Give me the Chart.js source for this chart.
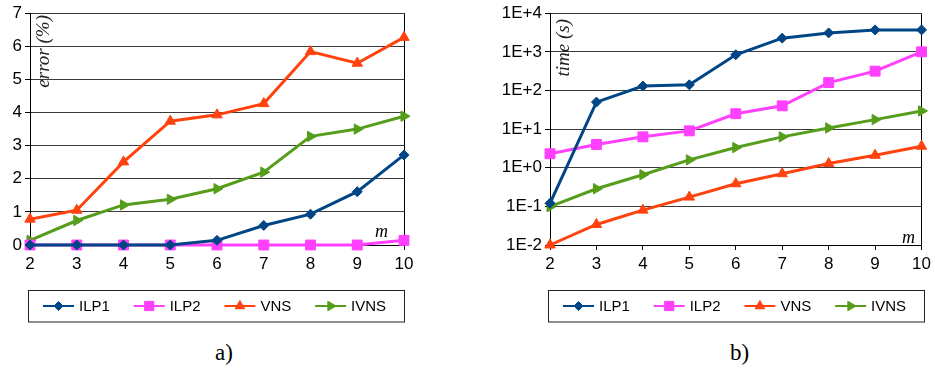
<!DOCTYPE html>
<html>
<head>
<meta charset="utf-8">
<script src="https://cdn.jsdelivr.net/npm/chart.js@4.4.1/dist/chart.umd.min.js"></script>
<style>
body { margin: 0; background: #fff; width: 935px; height: 371px; position: relative; overflow: hidden; }
canvas { position: absolute; top: 0; }
.cap { position: absolute; top: 341px; font: 23px/23px "Liberation Serif", serif; color: #000; }
</style>
</head>
<body>
<canvas id="chartA" width="470" height="330" style="left:0"></canvas>
<canvas id="chartB" width="465" height="330" style="left:470px"></canvas>
<div class="cap" style="left:215px">a)</div>
<div class="cap" style="left:730px">b)</div>
<script>
// values
var mLabels = ["2", "3", "4", "5", "6", "7", "8", "9", "10"];
var seriesNames = ["ILP1", "ILP2", "VNS", "IVNS"];

var errorILP1 = [0, 0, 0, 0, 0.14, 0.59, 0.93, 1.61, 2.72];
var errorILP2 = [0, 0, 0, 0, 0, 0, 0, 0, 0.14];
var errorVNS = [0.78, 1.05, 2.51, 3.74, 3.93, 4.27, 5.84, 5.49, 6.27];
var errorIVNS = [0.14, 0.74, 1.21, 1.38, 1.7, 2.2, 3.28, 3.5, 3.89];

var timeILP1 = [0.12, 50, 130, 140, 840, 2260, 3090, 3700, 3700];
var timeILP2 = [2.3, 4.0, 6.3, 9.0, 25, 40, 160, 316, 1000];
var timeVNS = [0.01, 0.034, 0.08, 0.174, 0.385, 0.7, 1.29, 2.1, 3.6];
var timeIVNS = [0.098, 0.286, 0.66, 1.6, 3.33, 6.3, 10.7, 17.6, 29.5];

var timeTickValues = [0.01, 0.1, 1, 10, 100, 1000, 10000];
var timeTickLabels = ["1E-2", "1E-1", "1E+0", "1E+1", "1E+2", "1E+3", "1E+4"];

// look of each series
var colors = ["#004586", "#ff40ff", "#ff420e", "#579d1c"];
var shapes = ["rectRot", "rect", "triangle", "triangle"];
var radii = [5, 7, 6, 6];
var rotations = [0, 0, 0, 90];

Chart.defaults.font.family = "'Liberation Sans', Arial, sans-serif";
Chart.defaults.font.size = 17;
Chart.defaults.color = "#000";

function makeDatasets(lists) {
    return lists.map(function (vals, i) {
        return {
            label: seriesNames[i],
            data: vals,
            borderColor: colors[i],
            backgroundColor: colors[i],
            borderWidth: 3,
            pointStyle: shapes[i],
            pointRadius: radii[i],
            pointRotation: rotations[i],
            pointBorderWidth: 1,
            tension: 0,
            clip: false
        };
    });
}

// legend with box, line and marker, plus the italic axis texts
function extrasPlugin(boxLeft, yTitle, titleX, titleTop, mX, mY) {
    return {
        id: "extras",
        afterDraw: function (chart) {
            var ctx = chart.ctx;
            ctx.save();
            ctx.font = "italic 18px 'Liberation Serif', serif";
            ctx.fillStyle = "#000";
            ctx.textBaseline = "alphabetic";
            ctx.fillText("m", mX, mY);
            ctx.font = "italic 19px 'Liberation Serif', serif";
            ctx.translate(titleX, titleTop);
            ctx.rotate(-Math.PI / 2);
            ctx.textAlign = "right";
            ctx.fillStyle = "#222";
            ctx.fillText(yTitle, 0, 0);
            ctx.restore();

            ctx.save();
            ctx.strokeStyle = "#222";
            ctx.lineWidth = 1;
            ctx.strokeRect(boxLeft + 0.5, 290.5, 376, 31.5);
            var cy = 306;
            for (var i = 0; i < seriesNames.length; i++) {
                var x0 = boxLeft + 15 + i * 90.7;
                ctx.strokeStyle = colors[i];
                ctx.fillStyle = colors[i];
                ctx.lineWidth = 2;
                ctx.beginPath();
                ctx.moveTo(x0, cy);
                ctx.lineTo(x0 + 31, cy);
                ctx.stroke();
                ctx.lineWidth = 1;
                Chart.helpers.drawPoint(ctx, {
                    pointStyle: shapes[i], radius: radii[i] - 0.5,
                    rotation: rotations[i], borderWidth: 1
                }, x0 + 15.5, cy);
                ctx.fillStyle = "#000";
                ctx.font = "15px 'Liberation Sans', Arial, sans-serif";
                ctx.textBaseline = "middle";
                ctx.fillText(seriesNames[i], x0 + 36, cy + 1);
            }
            ctx.restore();
        }
    };
}

function xAxis() {
    return {
        type: "category",
        offset: false,
        border: { color: "#000", width: 1 },
        grid: {
            color: function (c) { return c.index === mLabels.length - 1 ? "#000" : "rgba(0,0,0,0)"; },
            tickColor: "#000",
            tickLength: 5,
            drawTicks: true
        },
        ticks: { padding: 4, maxRotation: 0, autoSkip: false },
        afterFit: function (s) { s.height = 25; }
    };
}

new Chart(document.getElementById("chartA"), {
    type: "line",
    data: {
        labels: mLabels,
        datasets: makeDatasets([errorILP1, errorILP2, errorVNS, errorIVNS])
    },
    options: {
        responsive: false,
        animation: false,
        layout: { padding: { top: 12, left: 0, right: 66, bottom: 60 } },
        plugins: { legend: { display: false }, tooltip: { enabled: false } },
        scales: {
            x: xAxis(),
            y: {
                min: 0, max: 7,
                border: { color: "#000", width: 1 },
                grid: { color: "#3a3a3a", tickColor: "#000", tickLength: 5 },
                ticks: { stepSize: 1, padding: 3 },
                afterFit: function (s) { s.width = 30; }
            }
        }
    },
    plugins: [extrasPlugin(28, "error (%)", 49, 15, 375, 237)]
});

new Chart(document.getElementById("chartB"), {
    type: "line",
    data: {
        labels: mLabels,
        datasets: makeDatasets([timeILP1, timeILP2, timeVNS, timeIVNS])
    },
    options: {
        responsive: false,
        animation: false,
        layout: { padding: { top: 13, left: 0, right: 12, bottom: 60 } },
        plugins: { legend: { display: false }, tooltip: { enabled: false } },
        scales: {
            x: xAxis(),
            y: {
                type: "logarithmic",
                min: 0.01, max: 10000,
                border: { color: "#000", width: 1 },
                grid: { color: "#3a3a3a", tickColor: "#000", tickLength: 5 },
                ticks: {
                    padding: 3,
                    callback: function (v, i) { return timeTickLabels[i]; }
                },
                afterBuildTicks: function (s) {
                    s.ticks = timeTickValues.map(function (v) { return { value: v }; });
                },
                afterFit: function (s) { s.width = 80; }
            }
        }
    },
    plugins: [extrasPlugin(78, "time (s)", 99, 19, 432, 243)]
});
</script>
</body>
</html>
